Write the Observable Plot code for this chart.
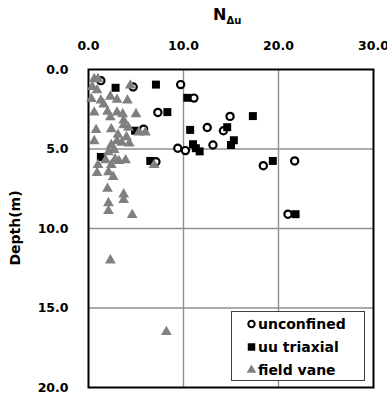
<!DOCTYPE html>
<html><head><meta charset="utf-8">
<script src="https://cdn.jsdelivr.net/npm/d3@7"></script>
<script src="https://cdn.jsdelivr.net/npm/@observablehq/plot@0.6"></script>
<style>body{margin:0;background:#fff;} svg{font-family:"DejaVu Sans";display:block}</style>
</head><body><div id="chart"></div>
<script>
const xTicks = [0, 10, 20, 30];
const yTicks = [0, 5, 10, 15, 20];
const xGrid = [10, 20];
const yGrid = [5, 10, 15];
const seriesNames = ["unconfined", "uu triaxial", "field vane"];

// [N_Δu, depth(m)]
const unconfined = [
  [1.3,0.7],[4.7,1.1],[9.7,0.95],[11.1,1.8],[7.3,2.7],[5.8,3.75],[9.4,4.95],[10.2,5.1],
  [7.1,5.8],[14.9,2.95],[12.5,3.65],[14.2,3.85],[13.1,4.75],[18.4,6.05],[21.7,5.75],[21.0,9.1]
];
const uuTriaxial = [
  [2.85,1.15],[7.1,0.95],[10.4,1.78],[8.3,2.68],[10.7,3.8],[11.0,4.7],[11.3,4.95],[11.7,5.15],
  [1.3,5.5],[6.5,5.75],[17.3,2.93],[14.6,3.63],[15.3,4.45],[15.0,4.75],[19.4,5.75],[21.8,9.1],[4.9,3.85]
];
const fieldVane = [
  [0.6,0.6],[1.0,0.6],[0.4,1.1],[0.9,1.3],[4.4,1.0],
  [0.3,1.85],[1.3,1.95],[2.3,1.7],[3.0,1.9],[4.1,1.95],[1.6,2.2],
  [0.6,2.7],[2.0,2.65],[3.0,2.7],[3.6,2.8],[5.0,2.8],[2.3,3.0],[3.7,3.2],
  [0.8,3.8],[2.4,3.75],[3.7,3.5],[4.2,3.65],[5.3,3.95],[6.0,3.95],[3.1,4.1],[4.0,4.25],
  [0.6,4.5],[2.4,4.75],[3.5,4.6],[4.3,4.65],[3.0,4.5],[2.7,5.05],[2.1,5.2],
  [1.8,5.7],[2.8,5.65],[3.9,5.7],[3.2,5.75],
  [1.0,6.0],[2.4,6.0],[6.9,6.0],
  [0.9,6.5],[2.1,6.45],[2.6,6.75],
  [2.0,7.5],[3.7,7.85],[3.7,8.2],[2.1,8.4],[2.1,8.9],[4.6,9.15],
  [2.3,12.0],[8.2,16.5]
];

const plot = Plot.plot({
  width: 387, height: 397,
  marginLeft: 88, marginRight: 14, marginTop: 69, marginBottom: 10,
  style: {fontFamily: "DejaVu Sans", fontSize: "12.5px", fontWeight: "bold", color: "black", background: "white"},
  x: {domain: [0, 30], axis: "top", ticks: xTicks, tickFormat: d => d.toFixed(1), tickSize: 0, tickPadding: 20, label: null},
  y: {domain: [0, 20], reverse: true, ticks: yTicks, tickFormat: d => d.toFixed(1), tickSize: 0, tickPadding: 20, label: null},
  marks: [
    Plot.ruleX(xGrid, {stroke: "#8f8f8f", strokeWidth: 1.4}),
    Plot.ruleY(yGrid, {stroke: "#8f8f8f", strokeWidth: 1.4}),
    Plot.frame({stroke: "black", strokeWidth: 2}),
    Plot.dot(unconfined, {x: d => d[0], y: d => d[1], r: 3.6, stroke: "black", strokeWidth: 2.2, fill: "white"}),
    Plot.dot(uuTriaxial, {x: d => d[0], y: d => d[1], symbol: "square", r: 4.5, fill: "black", stroke: "none"}),
    Plot.dot(fieldVane, {x: d => d[0], y: d => d[1], symbol: "triangle", r: 4, fill: "#808080", stroke: "none"})
  ]
});
document.getElementById("chart").appendChild(plot);

const svg = d3.select(plot);
// x-axis title N_Δu
const xt = svg.append("text").attr("x", 213).attr("y", 20).attr("text-anchor", "start")
  .attr("font-weight", "bold").attr("fill", "black");
xt.append("tspan").attr("font-size", 16).text("N");
xt.append("tspan").attr("font-size", 10).attr("dy", 4).text("Δu");
// y-axis title
svg.append("text").attr("transform", "translate(20,228) rotate(-90)")
  .attr("text-anchor", "middle").attr("font-size", 14).attr("font-weight", "bold").attr("fill", "black")
  .text("Depth(m)");

// legend
const lg = svg.append("g");
lg.append("rect").attr("x", 231.5).attr("y", 311.5).attr("width", 133).attr("height", 69)
  .attr("fill", "white").attr("stroke", "#404040").attr("stroke-width", 1);
const rowsY = [324, 347, 370];
lg.append("circle").attr("cx", 251.5).attr("cy", rowsY[0]).attr("r", 3.2)
  .attr("fill", "white").attr("stroke", "black").attr("stroke-width", 2);
lg.append("path").attr("transform", `translate(251.5,${rowsY[1]})`)
  .attr("d", d3.symbol(d3.symbolSquare, 56)()).attr("fill", "black");
lg.append("path").attr("transform", `translate(251.5,${rowsY[2]})`)
  .attr("d", d3.symbol(d3.symbolTriangle, 40)()).attr("fill", "#808080");
seriesNames.forEach((s, i) => {
  lg.append("text").attr("x", 258).attr("y", rowsY[i] + 5).attr("text-anchor", "start")
    .attr("font-size", 14).attr("font-weight", "bold").attr("fill", "black").text(s);
});
</script>
</body></html>
